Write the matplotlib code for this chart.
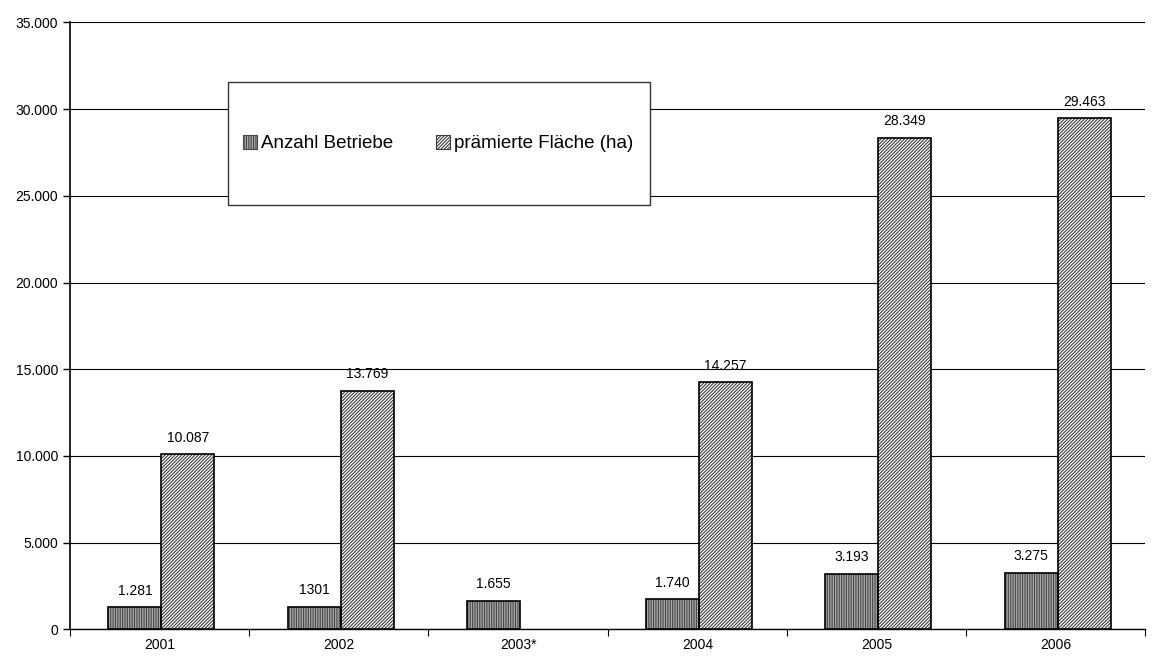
import numpy as np
import matplotlib.pyplot as plt

plt.rcParams['font.family'] = ['Liberation Sans', 'DejaVu Sans']
plt.rcParams['hatch.linewidth'] = 0.8

years = ["2001", "2002", "2003*", "2004", "2005", "2006"]
betriebe = [1281, 1301, 1655, 1740, 3193, 3275]
betriebe_labels = ["1.281", "1301", "1.655", "1.740", "3.193", "3.275"]
flaeche = [10087, 13769, np.nan, 14257, 28349, 29463]
flaeche_labels = ["10.087", "13.769", "", "14.257", "28.349", "29.463"]

fig, ax = plt.subplots(figsize=(11.57, 6.57), dpi=100)
fig.subplots_adjust(left=0.0605, right=0.99, top=0.966, bottom=0.042)

x = np.arange(len(years)) + 0.01
w = 0.296

b1 = ax.bar(x - w / 2, betriebe, w, facecolor='#a8a8a8', edgecolor='#484848',
            hatch='|' * 7, linewidth=0, label='Anzahl Betriebe', zorder=3)
b2 = ax.bar(x + w / 2, flaeche, w, facecolor='white', edgecolor='#3c3c3c',
            hatch='/' * 10, linewidth=0, label='prämierte Fläche (ha)', zorder=3)

# hatch lines take the edge colour, so draw the outline in black on top
for bars in (b1, b2):
    for bar in bars:
        if np.isfinite(bar.get_height()):
            ax.add_patch(plt.Rectangle(bar.get_xy(), bar.get_width(), bar.get_height(),
                                       fill=False, edgecolor='black', linewidth=1.2, zorder=4))

for xi, v, t in zip(x, betriebe, betriebe_labels):
    ax.text(xi - w / 2, v + 550, t, ha='center', va='bottom', fontsize=10)
for xi, v, t in zip(x, flaeche, flaeche_labels):
    if t:
        ax.text(xi + w / 2, v + 550, t, ha='center', va='bottom', fontsize=10)

ax.set_xlim(-0.5, len(years) - 0.5)
ax.set_ylim(0, 35000)
ax.set_yticks(np.arange(0, 35001, 5000))
ax.set_yticklabels(["0" if v == 0 else f"{v // 1000}.000" for v in range(0, 35001, 5000)],
                   fontsize=10)
ax.yaxis.grid(True, color='black', linewidth=0.8, zorder=0)

ax.set_xticks(np.arange(len(years)))
ax.set_xticklabels(years, fontsize=10)
ax.tick_params(axis='x', length=0, pad=6)
ax.tick_params(axis='y', length=5, direction='out', width=1)
# category boundary marks below the x axis
ax.set_xticks(np.arange(-0.5, len(years) + 0.5, 1), minor=True)
ax.tick_params(axis='x', which='minor', length=5, width=0.8)

for s in ('top', 'right'):
    ax.spines[s].set_visible(False)
ax.spines['left'].set_linewidth(1.2)
ax.spines['bottom'].set_linewidth(1.0)

# legend box
box = plt.Rectangle((0.147, 0.6985), 0.3925, 0.2027, transform=ax.transAxes,
                    facecolor='white', edgecolor='#333333', linewidth=1.0, zorder=5)
ax.add_patch(box)
leg = ax.legend(loc='center', bbox_to_anchor=(0.342, 0.80), ncol=2,
                frameon=False, fontsize=13.5, handlelength=0.75,
                handleheight=0.75, handletextpad=0.2, columnspacing=2.3,
                borderpad=0, borderaxespad=0)
leg.set_zorder(6)
for h in leg.legend_handles:
    h.set_linewidth(0.8)

fig.savefig('out.png', dpi=100)
